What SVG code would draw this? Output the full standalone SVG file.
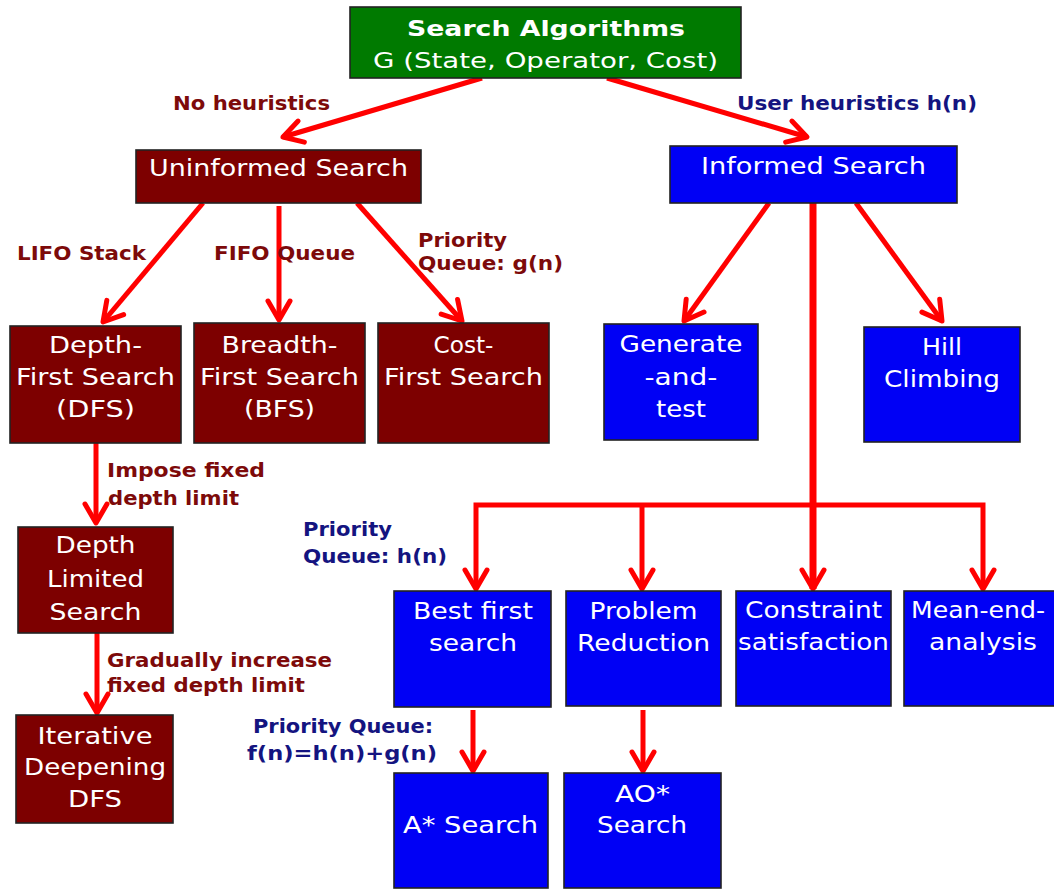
<svg xmlns="http://www.w3.org/2000/svg" width="1054" height="891" viewBox="0 0 1054 891">
<style>
.box{stroke:#222;stroke-width:1.6}
.g{fill:#007a00}.r{fill:#7d0000}.b{fill:#0000f5}
.t{font-family:"DejaVu Sans",Verdana,sans-serif;font-size:23px;fill:#fff;text-anchor:middle}
.tb{font-weight:bold}
.lab{font-family:"DejaVu Sans",Verdana,sans-serif;font-size:19px;font-weight:bold}
.lr{fill:#7d0a0a}.ln{fill:#141480}
.c{stroke:#ff0000;stroke-width:5;fill:none;marker-end:url(#ah)}
</style>
<defs>
<marker id="ah" markerUnits="userSpaceOnUse" orient="auto" refX="0" refY="0" markerWidth="30" markerHeight="30" overflow="visible">
<path d="M-19,-11 L0,0 L-19,11" fill="none" stroke="#ff0000" stroke-width="5" stroke-linejoin="round" stroke-linecap="round"/>
</marker>
</defs>
<rect width="1054" height="891" fill="#fff"/>
<g id="connectors">
<path class="c" d="M482,78 L283,137"/>
<path class="c" d="M607,78 L807,137"/>
<path class="c" d="M203,203 L103,322"/>
<path class="c" d="M279,206 L279,320"/>
<path class="c" d="M357,203 L462,321"/>
<path class="c" d="M769,203 L684,321"/>
<path class="c" d="M856,203 L942,321"/>
<path class="c" d="M813,200 L813,589" style="stroke-width:7"/>
<path class="c" d="M813,505 H476 V589"/>
<path class="c" d="M813,505 H983 V589"/>
<path class="c" d="M642,505 V589"/>
<path class="c" d="M96,443 V523"/>
<path class="c" d="M97,633 V713"/>
<path class="c" d="M473,710 V771"/>
<path class="c" d="M643,710 V771"/>
</g>
<g id="root">
<rect class="box g" x="350" y="7" width="391" height="71"/>
<text class="t tb" x="546" y="36" textLength="278" lengthAdjust="spacingAndGlyphs" style="font-size:22px">Search Algorithms</text>
<text class="t" x="545.5" y="68" textLength="345" lengthAdjust="spacingAndGlyphs" style="font-size:22px">G (State, Operator, Cost)</text>
</g>
<g id="uninformed">
<rect class="box r" x="136" y="150" width="285" height="53"/>
<text class="t" x="278.5" y="176" textLength="259" lengthAdjust="spacingAndGlyphs">Uninformed Search</text>
</g>
<g id="informed">
<rect class="box b" x="670" y="146" width="287" height="57"/>
<text class="t" x="813.5" y="174" textLength="225" lengthAdjust="spacingAndGlyphs">Informed Search</text>
</g>
<g id="dfs">
<rect class="box r" x="10" y="326" width="171" height="117"/>
<text class="t" x="95.5" y="353" textLength="93" lengthAdjust="spacingAndGlyphs">Depth-</text>
<text class="t" x="95.5" y="385" textLength="159" lengthAdjust="spacingAndGlyphs">First Search</text>
<text class="t" x="95.5" y="417" textLength="79" lengthAdjust="spacingAndGlyphs">(DFS)</text>
</g>
<g id="bfs">
<rect class="box r" x="194" y="323" width="171" height="120"/>
<text class="t" x="279.5" y="353" textLength="116" lengthAdjust="spacingAndGlyphs">Breadth-</text>
<text class="t" x="279.5" y="385" textLength="159" lengthAdjust="spacingAndGlyphs">First Search</text>
<text class="t" x="279.5" y="417" textLength="71" lengthAdjust="spacingAndGlyphs">(BFS)</text>
</g>
<g id="cfs">
<rect class="box r" x="378" y="323" width="171" height="120"/>
<text class="t" x="463.5" y="353" textLength="60" lengthAdjust="spacingAndGlyphs">Cost-</text>
<text class="t" x="463.5" y="385" textLength="159" lengthAdjust="spacingAndGlyphs">First Search</text>
</g>
<g id="generate">
<rect class="box b" x="604" y="324" width="154" height="116"/>
<text class="t" x="681" y="352" textLength="123" lengthAdjust="spacingAndGlyphs">Generate</text>
<text class="t" x="681" y="385" textLength="73" lengthAdjust="spacingAndGlyphs">-and-</text>
<text class="t" x="681" y="417" textLength="50" lengthAdjust="spacingAndGlyphs">test</text>
</g>
<g id="hill">
<rect class="box b" x="864" y="327" width="156" height="115"/>
<text class="t" x="942" y="355" textLength="40" lengthAdjust="spacingAndGlyphs">Hill</text>
<text class="t" x="942" y="387" textLength="116" lengthAdjust="spacingAndGlyphs">Climbing</text>
</g>
<g id="dls">
<rect class="box r" x="18" y="527" width="155" height="106"/>
<text class="t" x="95.5" y="553" textLength="80" lengthAdjust="spacingAndGlyphs">Depth</text>
<text class="t" x="95.5" y="587" textLength="97" lengthAdjust="spacingAndGlyphs">Limited</text>
<text class="t" x="95.5" y="620" textLength="92" lengthAdjust="spacingAndGlyphs">Search</text>
</g>
<g id="iddfs">
<rect class="box r" x="16" y="715" width="157" height="108"/>
<text class="t" x="95" y="744" textLength="115" lengthAdjust="spacingAndGlyphs">Iterative</text>
<text class="t" x="95" y="775" textLength="142" lengthAdjust="spacingAndGlyphs">Deepening</text>
<text class="t" x="95" y="807" textLength="54" lengthAdjust="spacingAndGlyphs">DFS</text>
</g>
<g id="bestfirst">
<rect class="box b" x="394" y="591" width="157" height="116"/>
<text class="t" x="473" y="619" textLength="120" lengthAdjust="spacingAndGlyphs">Best first</text>
<text class="t" x="473" y="651" textLength="88" lengthAdjust="spacingAndGlyphs">search</text>
</g>
<g id="problem">
<rect class="box b" x="566" y="591" width="155" height="115"/>
<text class="t" x="643.5" y="619" textLength="108" lengthAdjust="spacingAndGlyphs">Problem</text>
<text class="t" x="643.5" y="651" textLength="133" lengthAdjust="spacingAndGlyphs">Reduction</text>
</g>
<g id="constraint">
<rect class="box b" x="736" y="591" width="155" height="115"/>
<text class="t" x="813.5" y="618" textLength="137" lengthAdjust="spacingAndGlyphs">Constraint</text>
<text class="t" x="813.5" y="650" textLength="151" lengthAdjust="spacingAndGlyphs">satisfaction</text>
</g>
<g id="meanend">
<rect class="box b" x="904" y="591" width="160" height="115"/>
<text class="t" x="978" y="618" textLength="134" lengthAdjust="spacingAndGlyphs">Mean-end-</text>
<text class="t" x="983" y="650" textLength="108" lengthAdjust="spacingAndGlyphs">analysis</text>
</g>
<g id="astar">
<rect class="box b" x="394" y="773" width="154" height="115"/>
<text class="t" x="470.5" y="833" textLength="135" lengthAdjust="spacingAndGlyphs">A* Search</text>
</g>
<g id="aostar">
<rect class="box b" x="564" y="773" width="157" height="115"/>
<text class="t" x="642.5" y="802" textLength="55" lengthAdjust="spacingAndGlyphs">AO*</text>
<text class="t" x="642" y="833" textLength="90" lengthAdjust="spacingAndGlyphs">Search</text>
</g>
<g id="labels">
<text class="lab lr" x="173" y="110" textLength="157" lengthAdjust="spacingAndGlyphs">No heuristics</text>
<text class="lab ln" x="737" y="110" textLength="240" lengthAdjust="spacingAndGlyphs">User heuristics h(n)</text>
<text class="lab lr" x="17" y="260" textLength="129" lengthAdjust="spacingAndGlyphs">LIFO Stack</text>
<text class="lab lr" x="214" y="260" textLength="141" lengthAdjust="spacingAndGlyphs">FIFO Queue</text>
<text class="lab lr" x="418" y="247" textLength="89" lengthAdjust="spacingAndGlyphs">Priority</text>
<text class="lab lr" x="418" y="270" textLength="145" lengthAdjust="spacingAndGlyphs">Queue: g(n)</text>
<text class="lab lr" x="107" y="477" textLength="158" lengthAdjust="spacingAndGlyphs">Impose fixed</text>
<text class="lab lr" x="108" y="505" textLength="131" lengthAdjust="spacingAndGlyphs">depth limit</text>
<text class="lab lr" x="107" y="667" textLength="225" lengthAdjust="spacingAndGlyphs">Gradually increase</text>
<text class="lab lr" x="107" y="692" textLength="198" lengthAdjust="spacingAndGlyphs">fixed depth limit</text>
<text class="lab ln" x="303" y="536" textLength="89" lengthAdjust="spacingAndGlyphs">Priority</text>
<text class="lab ln" x="303" y="563" textLength="144" lengthAdjust="spacingAndGlyphs">Queue: h(n)</text>
<text class="lab ln" x="253" y="733" textLength="180" lengthAdjust="spacingAndGlyphs">Priority Queue:</text>
<text class="lab ln" x="247" y="760" textLength="190" lengthAdjust="spacingAndGlyphs">f(n)=h(n)+g(n)</text>
</g>
</svg>
